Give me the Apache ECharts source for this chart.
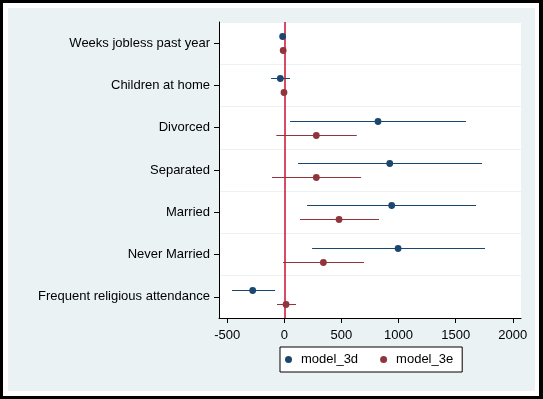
<!DOCTYPE html>
<html>
<head>
<meta charset="utf-8">
<script src="https://cdn.jsdelivr.net/npm/echarts@6/dist/echarts.min.js"></script>
<style>
  html, body { margin: 0; padding: 0; background: #000; }
  #frame { position: absolute; left: 3px; top: 3px; width: 536px; height: 393px; background: #fff; }
  #inner { position: absolute; left: 8px; top: 8px; width: 527px; height: 383px; background: #eaf2f3; }
  #chart { position: absolute; left: 0; top: 0; width: 543px; height: 399px; }
</style>
</head>
<body>
<div id="frame"></div>
<div id="inner"></div>
<div id="chart"></div>
<script>
const categories = ["Weeks jobless past year", "Children at home", "Divorced", "Separated", "Married", "Never Married", "Frequent religious attendance"];
const seriesNames = ["model_3d", "model_3e"];
// estimates and confidence interval bounds
const est3d = [-15, -35, 820, 923, 940, 996, -277];
const lo3d  = [-25, -116, 50, 120, 199, 243, -458];
const hi3d  = [-5, 50, 1591, 1731, 1679, 1757, -81];
const est3e = [-10, -3, 280, 280, 479, 342, 15];
const lo3e  = [-18, -15, -70, -108, 137, -11, -64];
const hi3e  = [-2, 10, 634, 672, 829, 698, 102];
const xTicks = [-500, 0, 500, 1000, 1500, 2000];

const FONT = 'Arial, "Liberation Sans", sans-serif';
const colors = ["#1a476f", "#90353b"];

function buildData(est, lo, hi) {
  return categories.map((c, i) => [i, est[i], lo[i], hi[i]]);
}

function makeRender(dy, color) {
  return function (params, api) {
    const idx = api.value(0);
    const p = api.coord([api.value(1), idx]);
    const a = api.coord([api.value(2), idx]);
    const b = api.coord([api.value(3), idx]);
    const y = Math.round(p[1] + dy) + 0.5;
    return {
      type: 'group',
      children: [
        { type: 'line', shape: { x1: a[0], y1: y, x2: b[0], y2: y }, style: { stroke: color, lineWidth: 1 } },
        { type: 'circle', shape: { cx: p[0], cy: y, r: 3.4 }, style: { fill: color } }
      ]
    };
  };
}

const chart = echarts.init(document.getElementById('chart'), null, { renderer: 'canvas' });
chart.setOption({
  backgroundColor: 'transparent',
  animation: false,
  textStyle: { fontFamily: FONT },
  grid: { left: 219, top: 22, right: 22, bottom: 81, backgroundColor: '#fff', show: true, borderWidth: 0 },
  legend: {
    data: seriesNames,
    icon: 'circle',
    itemWidth: 7,
    itemHeight: 7,
    left: 280,
    top: 347,
    itemGap: 22,
    padding: [6, 9, 6, 5],
    backgroundColor: '#fff',
    borderColor: '#000',
    borderWidth: 1,
    borderRadius: 0,
    textStyle: { fontSize: 13, color: '#000', fontFamily: FONT, padding: [0, 0, 0, 4] }
  },
  xAxis: {
    type: 'value',
    min: -572,
    max: 2072,
    axisLine: { show: true, onZero: false, lineStyle: { color: '#000', width: 1 } },
    axisTick: { show: true, length: 5, customValues: xTicks, lineStyle: { color: '#000' } },
    axisLabel: { customValues: xTicks, fontSize: 13, color: '#000', margin: 11, fontFamily: FONT,
                 formatter: function (v) { return String(v); } },
    splitLine: { show: false }
  },
  yAxis: {
    type: 'category',
    data: categories,
    inverse: true,
    axisLine: { show: true, onZero: false, lineStyle: { color: '#000', width: 1 } },
    axisTick: { show: true, alignWithLabel: true, length: 5, interval: 0, lineStyle: { color: '#000' } },
    axisLabel: { fontSize: 13, color: '#000', margin: 9, interval: 0, fontFamily: FONT },
    splitLine: { show: true, interval: 0, lineStyle: { color: '#eaf2f3', width: 1 } }
  },
  series: [
    {
      name: seriesNames[0],
      type: 'custom',
      itemStyle: { color: colors[0] },
      renderItem: makeRender(-7, colors[0]),
      encode: { x: [1, 2, 3], y: 0 },
      data: buildData(est3d, lo3d, hi3d),
      z: 5,
      markLine: {
        silent: true,
        symbol: 'none',
        label: { show: false },
        lineStyle: { color: '#c8102e', width: 1.5, type: 'solid' },
        data: [{ xAxis: 0 }],
        z: 3
      }
    },
    {
      name: seriesNames[1],
      type: 'custom',
      itemStyle: { color: colors[1] },
      renderItem: makeRender(7, colors[1]),
      encode: { x: [1, 2, 3], y: 0 },
      data: buildData(est3e, lo3e, hi3e),
      z: 5
    }
  ]
});
</script>
</body>
</html>
